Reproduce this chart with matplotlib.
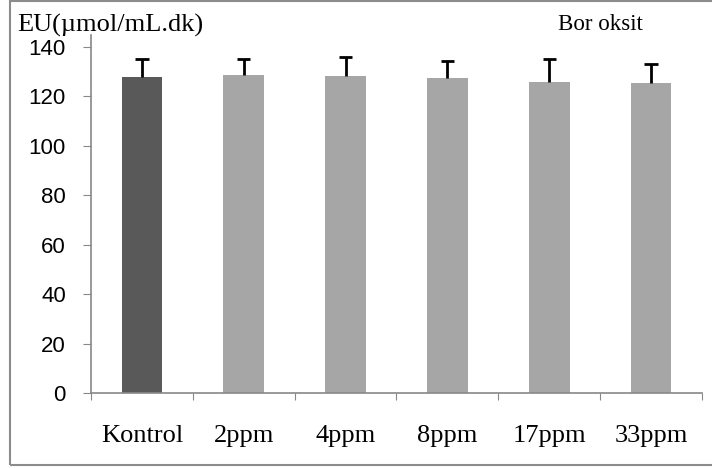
import matplotlib
matplotlib.use('Agg')
import matplotlib.pyplot as plt
from matplotlib.patches import Rectangle

categories = ['Kontrol', '2ppm', '4ppm', '8ppm', '17ppm', '33ppm']
values = [127.8, 128.6, 128.2, 127.6, 125.8, 125.3]
errors = [7.2, 6.6, 7.8, 6.7, 9.2, 8.0]
bar_colors = ['#595959', '#a6a6a6', '#a6a6a6', '#a6a6a6', '#a6a6a6', '#a6a6a6']
y_ticks = [0, 20, 40, 60, 80, 100, 120, 140]

serif = 'Liberation Serif'
sans = 'Liberation Sans'

fig = plt.figure(figsize=(7.12, 4.68), dpi=100)
ax = fig.add_axes([0.1278, 0.16, 0.858, 0.766])

x = list(range(len(categories)))
ax.bar(x, values, width=0.4, color=bar_colors, zorder=2)

# upper error bars only (T shape)
tops = [v + e for v, e in zip(values, errors)]
ax.vlines(x, values, tops, colors='black', linewidth=2.0, zorder=3)
ax.hlines(tops, [i - 0.065 for i in x], [i + 0.065 for i in x],
          colors='black', linewidth=2.0, zorder=3)

ax.set_xlim(-0.5, len(categories) - 0.5)
ax.set_ylim(0, 145)
ax.set_yticks(y_ticks)
ax.set_yticklabels([str(t) for t in y_ticks], fontfamily=sans, fontsize=16)
ax.set_xticks([i - 0.5 for i in range(len(categories) + 1)])
ax.set_xticklabels([])
ax.set_xticks(x, minor=True)
ax.set_xticklabels(categories, minor=True, fontfamily=serif, fontsize=19)
ax.tick_params(axis='x', which='minor', length=0, pad=23)
ax.tick_params(axis='x', which='major', length=5, color='#888888', direction='out')
ax.tick_params(axis='y', length=6, color='#888888', direction='out', pad=12)

for s in ['top', 'right']:
    ax.spines[s].set_visible(False)
for s in ['left', 'bottom']:
    ax.spines[s].set_color('#888888')
    ax.spines[s].set_linewidth(1.2)

fig.text(17 / 712, 1 - 25 / 468, 'EU(\u00b5mol/mL.dk)', fontfamily=serif,
         fontsize=19, ha='left', va='center')
fig.text(600 / 712, 1 - 25 / 468, 'Bor oksit', fontfamily=serif,
         fontsize=16.5, ha='center', va='center')

fig.patches.append(Rectangle((10 / 712, 3 / 468), 1.2, 464 / 468,
                             transform=fig.transFigure, fill=False,
                             edgecolor='#8c8c8c', linewidth=1.5))

fig.savefig('out.png', dpi=100)
